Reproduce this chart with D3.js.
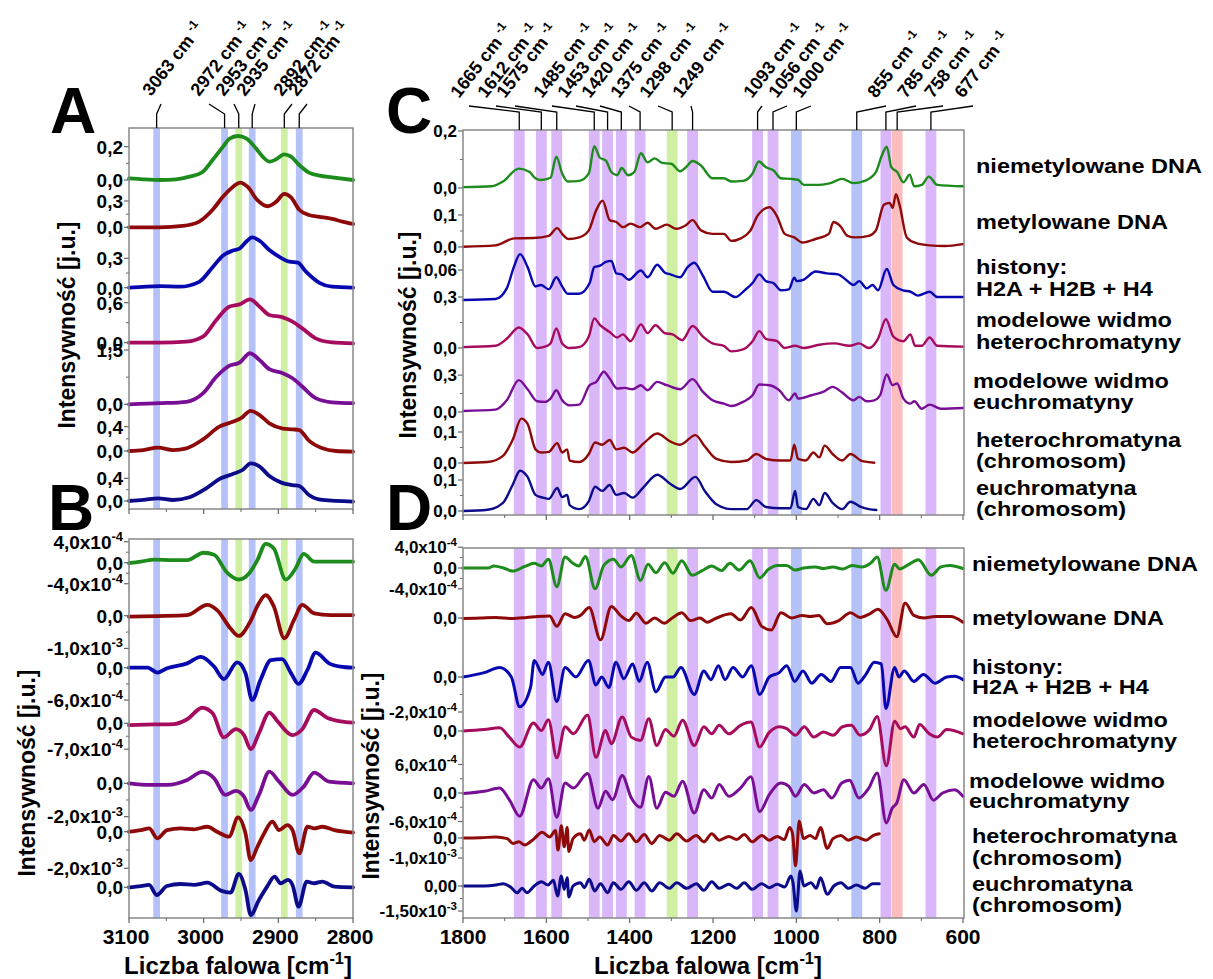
<!DOCTYPE html>
<html lang="pl">
<head>
<meta charset="UTF-8">
<title>Widma</title>
<script src="https://cdn.jsdelivr.net/npm/d3@7"></script>
<style>
  body { margin: 0; background: #fff; }
  text { font-family: "Liberation Sans", Arial, sans-serif; font-weight: bold; fill: #000; }
</style>
</head>
<body>
<svg id="fig" width="1213" height="979"></svg>
<script>
// ---------- data: [wavenumber, value] ----------
// panel A (3100-2800 cm-1), intensity
var aNiem = [[3100,0.01],[3081,0.004],[3059,0],[3037,0.004],[3019,0.02],[3001,0.05],[2988,0.12],[2974,0.2],[2966,0.246],[2954,0.264],[2943,0.25],[2930,0.19],[2921,0.14],[2912,0.11],[2903,0.124],[2892,0.154],[2883,0.14],[2872,0.09],[2859,0.044],[2845,0.026],[2828,0.016],[2800,0.0]];
var aMet = [[3100,0],[3059,0],[3028,0.015],[3006,0.065],[2988,0.2],[2974,0.35],[2961,0.46],[2951,0.51],[2941,0.46],[2928,0.31],[2914,0.24],[2903,0.29],[2892,0.38],[2883,0.34],[2872,0.2],[2859,0.14],[2845,0.12],[2828,0.095],[2814,0.065],[2800,0.038]];
var aHist = [[3100,0],[3059,0.017],[3032,0.01],[3006,0.06],[2988,0.21],[2974,0.33],[2961,0.38],[2952,0.40],[2943,0.47],[2935,0.515],[2925,0.48],[2912,0.385],[2899,0.317],[2885,0.266],[2874,0.256],[2863,0.164],[2845,0.05],[2828,0.01],[2800,0]];
var aModHet = [[3100,0],[3059,0],[3023,0.015],[3001,0.09],[2983,0.34],[2966,0.54],[2952,0.575],[2938,0.65],[2925,0.54],[2912,0.415],[2894,0.38],[2881,0.315],[2868,0.215],[2850,0.065],[2828,0.005],[2800,-0.01]];
var aModEu = [[3100,0],[3059,0.03],[3023,0.07],[3001,0.3],[2983,0.76],[2966,1.06],[2952,1.15],[2938,1.41],[2925,1.22],[2912,0.97],[2894,0.86],[2881,0.72],[2868,0.49],[2850,0.17],[2828,0.055],[2800,0.03]];
var aHetCh = [[3100,0],[3081,0.016],[3061,0.055],[3041,0.016],[3023,0.044],[3001,0.19],[2979,0.4],[2961,0.48],[2950,0.54],[2937,0.66],[2925,0.59],[2912,0.455],[2894,0.37],[2881,0.356],[2872,0.345],[2859,0.17],[2841,0.044],[2823,0],[2800,-0.01]];
var aEuCh = [[3100,0],[3081,0.018],[3061,0.047],[3041,0.018],[3019,0.065],[2997,0.22],[2977,0.4],[2961,0.476],[2948,0.547],[2937,0.665],[2925,0.606],[2912,0.44],[2896,0.324],[2881,0.28],[2872,0.265],[2859,0.106],[2841,0.018],[2800,-0.01]];

// panel B, second derivative, units of 1e-4
var bNiem = [[3100,-0.1],[3084,0.2],[3066,0.6],[3040,0.5],[3022,0.5],[3000,1.9],[2986,1.5],[2968,-2.0],[2953,-3.2],[2939,-2.0],[2928,0.5],[2917,3.6],[2906,2.7],[2890,-3.2],[2877,-1.1],[2866,1.7],[2852,0.2],[2825,0.2],[2800,0.2]];
var bMet = [[3100,-0.3],[3062,-0.1],[3022,0.2],[2995,3.3],[2982,1.7],[2964,-3.9],[2953,-6.2],[2939,-2.4],[2926,3.8],[2917,6.3],[2906,2.8],[2892,-6.9],[2879,-1.3],[2868,3.3],[2852,0.7],[2830,0.2],[2800,0.2]];
var bHist = [[3100,0],[3075,0],[3062,-0.9],[3049,-0.1],[3022,0.8],[3004,2.0],[2986,0.2],[2973,-2.1],[2955,1.0],[2944,-1.0],[2935,-6.0],[2924,-2.3],[2910,1.4],[2895,1.6],[2883,-1.0],[2873,-3.0],[2861,-0.4],[2850,2.8],[2832,0.8],[2817,0.2],[2800,0]];
var bModHet = [[3100,-0.5],[3066,-0.3],[3040,-0.2],[3022,1.1],[3002,4.2],[2988,2.7],[2973,-3.8],[2957,-1.6],[2946,-3.2],[2937,-7.0],[2926,-2.7],[2912,2.9],[2901,0.5],[2881,-3.2],[2868,-1.6],[2852,3.6],[2834,1.4],[2817,0.5],[2800,0.2]];
var bModEu = [[3100,0],[3071,-1],[3049,-1],[3022,2],[3002,6.8],[2986,3],[2971,-7],[2957,-4.6],[2946,-8],[2937,-16],[2926,-7],[2912,7],[2899,1],[2881,-7],[2866,-2],[2852,6.4],[2832,1],[2800,0]];
var bHetCh = [[3100,0],[3084,0.9],[3073,1.8],[3062,-3.6],[3049,0.9],[3031,1.8],[3013,1.3],[2995,2.7],[2982,0],[2966,-2.7],[2954,7.8],[2944,-0.9],[2937,-15.5],[2928,-8.2],[2919,-0.9],[2908,5.5],[2899,0.9],[2888,3.6],[2881,0.9],[2872,-11.8],[2861,2.7],[2852,1.8],[2841,2.7],[2825,0.9],[2812,0],[2800,-0.5]];
var bEuCh = [[3100,0],[3084,0.7],[3073,1.3],[3063,-4.2],[3049,0.7],[3031,1.8],[3013,1.3],[2995,2.5],[2977,-1.8],[2964,-2.9],[2953,7.3],[2944,-1.5],[2937,-15.1],[2926,-6.9],[2915,0.4],[2905,5.8],[2897,2.2],[2887,4],[2881,1.3],[2873,-10.5],[2862,3.1],[2852,2.2],[2841,3.1],[2825,0.4],[2800,0]];

// panel C (1800-600 cm-1), intensity
var cNiem = [[1800,0.003],[1731,0.006],[1704,0.023],[1666,0.068],[1640,0.056],[1626,0.034],[1613,0.028],[1590,0.036],[1576,0.11],[1562,0.051],[1549,0.023],[1521,0.025],[1498,0.051],[1485,0.147],[1472,0.107],[1457,0.096],[1444,0.056],[1430,0.045],[1419,0.07],[1404,0.045],[1389,0.056],[1373,0.122],[1357,0.09],[1340,0.104],[1322,0.088],[1300,0.085],[1279,0.059],[1265,0.073],[1249,0.095],[1229,0.079],[1201,0.034],[1174,0.034],[1156,0.023],[1128,0.025],[1105,0.051],[1090,0.093],[1073,0.073],[1055,0.062],[1037,0.034],[1014,0.032],[995,0.028],[982,0.011],[945,0.011],[918,0.017],[890,0.032],[863,0.017],[836,0.025],[809,0.056],[795,0.113],[783,0.145],[772,0.073],[758,0.056],[743,0.02],[728,0.047],[717,0.006],[699,0.011],[682,0.04],[662,0.011],[600,0.006]];
var cMet = [[1800,0.001],[1722,0.005],[1677,0.027],[1631,0.028],[1594,0.035],[1574,0.059],[1560,0.038],[1547,0.025],[1521,0.03],[1498,0.052],[1480,0.116],[1465,0.145],[1448,0.084],[1432,0.078],[1416,0.062],[1398,0.073],[1375,0.062],[1357,0.076],[1338,0.057],[1311,0.07],[1288,0.057],[1265,0.068],[1249,0.084],[1229,0.052],[1201,0.041],[1174,0.041],[1156,0.019],[1133,0.027],[1110,0.052],[1092,0.1],[1064,0.124],[1046,0.095],[1028,0.041],[1005,0.03],[986,0.014],[954,0.025],[922,0.041],[911,0.078],[895,0.066],[877,0.035],[859,0.03],[826,0.035],[809,0.052],[790,0.132],[776,0.138],[769,0.122],[761,0.165],[752,0.13],[735,0.03],[712,0.012],[680,0.005],[644,0.003],[600,0.009]];
var cHist = [[1800,-0.002],[1722,0],[1695,0.022],[1678,0.066],[1663,0.093],[1645,0.066],[1626,0.026],[1613,0.029],[1594,0.02],[1576,0.045],[1562,0.026],[1549,0.011],[1521,0.011],[1496,0.033],[1485,0.066],[1471,0.069],[1457,0.077],[1444,0.079],[1432,0.053],[1419,0.051],[1402,0.04],[1373,0.059],[1357,0.045],[1334,0.071],[1316,0.055],[1302,0.051],[1279,0.045],[1261,0.066],[1245,0.075],[1224,0.048],[1201,0.015],[1174,0.015],[1146,0.004],[1124,0.018],[1105,0.033],[1089,0.051],[1073,0.037],[1055,0.033],[1037,0.018],[1018,0.02],[1005,0.044],[999,0.037],[982,0.04],[954,0.057],[927,0.053],[900,0.051],[881,0.04],[863,0.029],[849,0.037],[831,0.022],[817,0.029],[804,0.018],[783,0.062],[767,0.029],[744,0.018],[726,0.015],[708,0.007],[680,0.015],[662,0.004],[639,0.004],[600,0.004]];
var cModHet = [[1800,0.005],[1722,0.013],[1695,0.054],[1666,0.121],[1645,0.08],[1622,0],[1603,0.008],[1590,0.027],[1576,0.115],[1562,0.027],[1544,0],[1521,0.005],[1498,0.067],[1485,0.174],[1471,0.134],[1448,0.094],[1430,0.062],[1416,0.08],[1398,0.04],[1373,0.139],[1357,0.088],[1338,0.134],[1316,0.088],[1297,0.08],[1274,0.046],[1249,0.129],[1224,0.067],[1201,0.027],[1174,0.013],[1156,-0.02],[1128,-0.008],[1105,0.04],[1089,0.099],[1073,0.054],[1046,0.04],[1028,0],[1003,0.013],[982,0],[945,0.019],[909,0.027],[872,0.013],[849,0.027],[826,0],[804,0.054],[785,0.169],[767,0.067],[743,0.04],[726,0.08],[715,0.013],[699,0.013],[680,0.062],[662,0.013],[600,0.008]];
var cModEu = [[1800,0.008],[1722,0.019],[1695,0.095],[1666,0.259],[1645,0.185],[1622,0.087],[1603,0.082],[1590,0.109],[1576,0.177],[1562,0.095],[1544,0.054],[1521,0.06],[1496,0.218],[1480,0.245],[1462,0.327],[1448,0.272],[1430,0.191],[1412,0.196],[1393,0.185],[1373,0.218],[1357,0.177],[1334,0.245],[1311,0.218],[1279,0.185],[1249,0.267],[1224,0.163],[1201,0.095],[1174,0.068],[1156,0.049],[1128,0.082],[1105,0.136],[1089,0.223],[1064,0.218],[1041,0.177],[1018,0.095],[1003,0.15],[996,0.109],[964,0.136],[936,0.163],[913,0.204],[890,0.158],[863,0.095],[849,0.123],[831,0.087],[813,0.095],[799,0.136],[783,0.305],[769,0.218],[758,0.232],[743,0.109],[726,0.068],[717,0.087],[699,0.027],[680,0.06],[653,0.027],[600,0.033]];
var cHetCh = [[1800,0],[1741,0.003],[1704,0.023],[1681,0.074],[1660,0.143],[1645,0.126],[1626,0.044],[1613,0.034],[1594,0.036],[1574,0.064],[1562,0.034],[1550,0.044],[1544,0.008],[1521,0.003],[1498,0.029],[1483,0.066],[1466,0.059],[1448,0.074],[1432,0.044],[1413,0.049],[1393,0.034],[1366,0.064],[1334,0.095],[1302,0.069],[1279,0.059],[1242,0.09],[1220,0.054],[1192,0.013],[1156,0.003],[1119,0.008],[1096,0.029],[1073,0.013],[1037,0.008],[1014,0.008],[1005,0.059],[996,0.013],[977,0.008],[959,0.034],[945,0.018],[932,0.056],[913,0.029],[890,0.008],[870,0.029],[845,0.008],[826,0.003],[813,0.001]];
var cEuCh = [[1800,0],[1741,0.004],[1704,0.026],[1681,0.084],[1663,0.13],[1645,0.11],[1626,0.052],[1608,0.043],[1594,0.039],[1574,0.074],[1562,0.045],[1550,0.052],[1544,0.019],[1521,0.006],[1498,0.032],[1483,0.078],[1466,0.065],[1448,0.084],[1432,0.052],[1413,0.058],[1393,0.043],[1366,0.078],[1334,0.117],[1302,0.087],[1279,0.071],[1242,0.11],[1220,0.065],[1192,0.022],[1156,0.006],[1119,0.006],[1096,0.035],[1073,0.013],[1037,0.009],[1014,0.009],[1003,0.065],[996,0.013],[977,0.006],[959,0.039],[945,0.019],[932,0.058],[913,0.026],[890,0.006],[870,0.03],[845,0.013],[826,0.006],[808,0.003]];

// panel D, second derivative, units of 1e-4
var dNiem = [[1800,0],[1740,0],[1726,0.4],[1703,0],[1680,-0.6],[1652,0.3],[1629,0.9],[1612,0.4],[1595,1.7],[1575,-3.6],[1555,2.1],[1536,0.9],[1522,0.4],[1506,2.2],[1483,-4],[1462,0.5],[1439,1.7],[1421,0.2],[1396,2.4],[1374,-2.4],[1356,0.7],[1337,-0.9],[1316,1],[1296,-1],[1275,1.4],[1250,-1.4],[1226,-0.5],[1203,0.4],[1180,-0.5],[1159,0.9],[1137,-0.4],[1111,1.4],[1088,-1.9],[1066,-0.2],[1046,0.5],[1023,0.5],[1004,-0.4],[982,0],[954,0.2],[935,-0.1],[912,0.2],[889,-0.2],[866,0.5],[843,0.2],[822,0.9],[806,2.1],[785,-4.3],[764,0.7],[752,-0.2],[730,0.7],[707,1.6],[676,-1.4],[653,0.2],[632,0.5],[600,-0.1]];
var dMet = [[1800,-0.1],[1758,0],[1721,0.1],[1684,-0.1],[1647,0.1],[1620,0.3],[1592,0.4],[1575,-1.6],[1555,0.8],[1532,0.1],[1518,0.5],[1497,2],[1470,-4.2],[1444,2.2],[1421,0.4],[1402,-0.5],[1384,0.9],[1361,-1],[1340,0],[1317,-1],[1296,0.1],[1275,1],[1254,-0.5],[1231,0],[1214,-0.8],[1194,-0.1],[1157,0.8],[1134,-0.4],[1108,2],[1083,-1.6],[1060,-2.3],[1037,1],[1011,0],[986,0.5],[967,0.3],[946,0.5],[926,-1.1],[898,-0.5],[870,1],[847,0.1],[824,0.8],[804,1.7],[782,-0.3],[759,-3.6],[739,2.9],[718,0.5],[694,0],[667,0.3],[630,0.3],[600,-0.8]];
var dHist = [[1800,0],[1749,0.25],[1712,0.55],[1684,0],[1664,-1.7],[1638,-0.6],[1629,0.95],[1609,0.15],[1595,0.85],[1575,-1.4],[1555,0.55],[1529,0],[1499,0.95],[1481,-0.45],[1467,0],[1450,-0.6],[1433,0.85],[1414,-0.1],[1393,0.75],[1377,-0.25],[1358,0.85],[1337,-0.85],[1314,0],[1296,0],[1277,0.55],[1245,-1],[1222,0.35],[1205,-0.15],[1187,0.65],[1171,-0.15],[1152,0.55],[1129,0],[1108,0.65],[1088,-1],[1065,0],[1041,0.25],[1023,0.65],[1004,-0.25],[984,0.35],[963,-0.35],[940,0.15],[917,-0.25],[894,0.55],[870,0.55],[852,-0.35],[833,0.15],[813,0.85],[796,0.75],[785,-1.8],[764,0.55],[754,0],[741,0.35],[718,-0.25],[695,0.15],[667,-0.35],[639,0],[620,0.05],[600,-0.15]];
var dModHet = [[1800,0],[1749,0.3],[1712,0.7],[1689,-1.3],[1664,-3.4],[1631,1.7],[1612,0.1],[1595,2.4],[1575,-5.7],[1555,0.9],[1535,-0.6],[1501,3.4],[1481,-5.6],[1458,0.1],[1444,-2.7],[1418,3],[1396,-1.3],[1374,-2],[1354,2.6],[1335,-3.1],[1314,0.3],[1294,-1.1],[1273,2.3],[1245,-3.1],[1222,0.9],[1203,-0.6],[1185,1.2],[1162,-0.6],[1134,1.2],[1109,1.9],[1088,-3.4],[1066,-0.4],[1041,0.9],[1023,0.5],[1002,-0.9],[981,0.9],[958,-1.3],[935,-0.2],[912,-0.9],[889,0.9],[868,1.2],[847,-0.9],[824,0.3],[806,3.1],[784,-7.4],[764,2.1],[750,0.5],[739,0.9],[718,-1.3],[704,1.4],[681,-0.6],[662,-1.3],[639,0.3],[600,-0.6]];
var dModEu = [[1800,-0.1],[1749,0.35],[1712,1.05],[1689,-1.4],[1664,-4.9],[1631,2.8],[1612,1.05],[1595,3],[1575,-5.1],[1555,2.1],[1535,1.05],[1501,4.1],[1476,-3.2],[1458,0.35],[1441,-1.4],[1418,3.7],[1396,-1.05],[1374,-3],[1354,3.5],[1335,-3.2],[1314,0.15],[1294,-0.7],[1273,2.5],[1245,-4.2],[1222,0.7],[1203,-1.05],[1185,1.8],[1162,-0.7],[1134,1.05],[1109,3.4],[1088,-3.9],[1065,-0.35],[1037,2.1],[1018,1.4],[1002,-0.7],[981,1.8],[958,0],[935,0.7],[915,-1.05],[891,2.1],[872,2.7],[850,-1.05],[826,1.05],[806,4.2],[784,-6.3],[770,-3.2],[759,-2.1],[742,2.8],[718,0],[694,1.8],[671,-1.5],[649,0],[620,0.7],[600,-0.7]];
var dHetCh = [[1800,0],[1758,0.15],[1721,0.5],[1694,-0.3],[1680,-2.7],[1666,-1.9],[1652,-3.5],[1629,-0.3],[1610,2.9],[1592,0.5],[1578,3.7],[1572,-6],[1564,6.1],[1557,-4.4],[1550,5.3],[1546,-6.8],[1536,-0.3],[1518,2.1],[1509,-1.1],[1497,4],[1485,-1.9],[1472,0.5],[1453,-3.5],[1439,1.3],[1421,-1.5],[1402,2.1],[1384,-1.9],[1365,1.8],[1347,-2.7],[1328,1.3],[1305,-1.1],[1287,2.1],[1263,-1.5],[1240,1.3],[1222,-1.9],[1203,2.1],[1185,-1.1],[1162,0.8],[1143,-0.8],[1125,1.8],[1106,-1.9],[1083,1.3],[1065,-1.1],[1046,0.8],[1029,-0.8],[1016,5.3],[1009,2.1],[1002,-14],[993,8.5],[983,-0.3],[967,1.3],[954,-0.3],[942,5.3],[926,-5.2],[912,-0.3],[893,1.3],[875,-1.1],[856,0.5],[833,-1.1],[815,1.3],[801,2.1]];
var dEuCh = [[1800,0],[1749,0],[1721,0.6],[1703,1.4],[1684,-1],[1670,-4],[1658,-1.4],[1647,-4],[1629,0],[1612,2.6],[1596,0.6],[1583,3.4],[1573,-6],[1564,6],[1557,-2],[1550,5],[1546,-6.6],[1536,0],[1518,2],[1509,-1],[1497,4],[1484,-3],[1470,1.4],[1453,-4],[1439,2],[1421,-2],[1402,2.6],[1384,-2.6],[1365,2],[1347,-3],[1328,2],[1305,-1.4],[1287,2],[1263,-1.4],[1240,1.4],[1222,-2.6],[1203,2.6],[1185,-1.4],[1162,1],[1143,-1.4],[1125,2],[1106,-2],[1083,1.4],[1065,-1],[1046,1],[1028,-0.6],[1013,6],[1008,2],[1000,-15],[991,9],[982,0],[965,2],[952,-1.4],[942,5],[926,-5],[910,0],[893,2],[875,-1.4],[856,0.6],[835,-1.4],[817,1.4],[801,1.4]];

// series names (right legend) and colours
var seriesNames = [["niemetylowane DNA"], ["metylowane DNA"], ["histony:", "H2A + H2B + H4"],
  ["modelowe widmo", "heterochromatyny"], ["modelowe widmo", "euchromatyny"],
  ["heterochromatyna", "(chromosom)"], ["euchromatyna", "(chromosom)"]];
var colors = ["#1d8c1d", "#8e0a0a", "#0808b0", "#a60c5e", "#780e94", "#8e0a0a", "#0c0c8a"];

// marked bands
var bandsAB = [3063, 2972, 2953, 2935, 2892, 2872];
var bandTypeAB = ["blue", "blue", "green", "blue", "green", "blue"];
var bandsCD = [1665, 1612, 1575, 1485, 1453, 1420, 1375, 1298, 1249, 1093, 1056, 1000, 855, 785, 758, 677];
var bandTypeCD = ["purple", "purple", "purple", "purple", "purple", "purple", "purple", "green", "purple",
  "purple", "purple", "blue", "blue", "purple", "pink", "purple"];

// y tick labels per spectrum: [value, label]  (^ marks superscript)
var ticksA = [[[0,"0,0"],[0.2,"0,2"]], [[0,"0,0"],[0.3,"0,3"]], [[0,"0,0"],[0.3,"0,3"]], [[0,"0,0"],[0.6,"0,6"]],
  [[0,"0,0"],[1.5,"1,5"]], [[0,"0,0"],[0.4,"0,4"]], [[0,"0,0"],[0.4,"0,4"]]];
var ticksB = [[[4,"4,0x10^-4"],[0,"0,0"],[-4,"-4,0x10^-4"]], [[0,"0,0"],[-10,"-1,0x10^-3"]], [[0,"0,0"],[-6,"-6,0x10^-4"]],
  [[0,"0,0"],[-7,"-7,0x10^-4"]], [[0,"0,0"],[-20,"-2,0x10^-3"]], [[0,"0,0"],[-20,"-2,0x10^-3"]], [[0,"0,0"]]];
var ticksC = [[[0,"0,0"],[0.2,"0,2"]], [[0,"0,0"],[0.1,"0,1"]], [[0.06,"0,06"]], [[0,"0,0"],[0.3,"0,3"]],
  [[0,"0,0"],[0.3,"0,3"]], [[0,"0,0"],[0.1,"0,1"]], [[0,"0,0"],[0.1,"0,1"]]];
var ticksD = [[[4,"4,0x10^-4"],[0,"0,0"],[-4,"-4,0x10^-4"]], [[0,"0,0"]], [[0,"0,0"],[-2,"-2,0x10^-4"]], [[0,"0,0"]],
  [[6,"6,0x10^-4"],[0,"0,0"],[-6,"-6,0x10^-4"]], [[0,"0,0"],[-10,"-1,0x10^-3"]], [[0,"0,00"],[-15,"-1,50x10^-3"]]];

// ---------- layout ----------
var svg = d3.select("#fig");
var xAB = d3.scaleLinear().domain([3100, 2800]).range([129, 353]);
var xCD = d3.scaleLinear().domain([1800, 600]).range([463, 963]);
var bandFill = {blue: "#b5c1f9", green: "#cff0a2", purple: "#dab7f9", pink: "#fbbdbd"};

var panels = [
  {box: [129, 128, 353, 509], x: xAB, series: [aNiem, aMet, aHist, aModHet, aModEu, aHetCh, aEuCh], ticks: ticksA,
   zero: [180, 227.3, 287.7, 342.7, 404.3, 451, 501], k: [166.7, 87.7, 97.8, 66.7, 36.2, 60.8, 56.7],
   lw: 3.8, fs: 19, bands: bandsAB, bandType: bandTypeAB, bandW: 9, xMajor: [3100, 3000, 2900, 2800], xMinor: [3050, 2950, 2850]},
  {box: [129, 539, 353, 918], x: xAB, series: [bNiem, bMet, bHist, bModHet, bModEu, bHetCh, bEuCh], ticks: ticksB,
   zero: [562.7, 615.7, 667.7, 723.3, 783.3, 831.7, 887.3], k: [5.25, 3.27, 5.39, 3.7, 1.667, 1.833, 1.833],
   lw: 3.8, fs: 19, bands: bandsAB, bandType: bandTypeAB, bandW: 9, xMajor: [3100, 3000, 2900, 2800], xMinor: [3050, 2950, 2850], xLabels: true},
  {box: [463, 130, 964, 515], x: xCD, series: [cNiem, cMet, cHist, cModHet, cModEu, cHetCh, cEuCh], ticks: ticksC,
   zero: [188, 247, 299, 348, 412, 463, 511], k: [285, 320, 483, 170, 123, 310, 310],
   lw: 2.4, fs: 17, bands: bandsCD, bandType: bandTypeCD, bandW: 26, xMajor: [1800, 1600, 1400, 1200, 1000, 800, 600], xMinor: [1700, 1500, 1300, 1100, 900, 700]},
  {box: [463, 548, 964, 918], x: xCD, series: [dNiem, dMet, dHist, dModHet, dModEu, dHetCh, dEuCh], ticks: ticksD,
   zero: [568, 618, 677, 731, 793, 838, 886], k: [5.2, 5.2, 17.5, 4.7, 4.75, 2.0, 1.67],
   lw: 3, fs: 17, bands: bandsCD, bandType: bandTypeCD, bandW: 26, xMajor: [1800, 1600, 1400, 1200, 1000, 800, 600], xMinor: [1700, 1500, 1300, 1100, 900, 700], xLabels: true}
];

// text with ^superscript^ parts
function rich(t, str, fs) {
  str.split("^").forEach(function(s, i) {
    if (!s) return;
    var sp = t.append("tspan").text(s);
    if (i % 2) sp.attr("font-size", fs * 0.68).attr("dy", -fs * 0.42);
    else if (i > 0) sp.attr("dy", fs * 0.42);
  });
}

panels.forEach(function(p) {
  var x0 = p.box[0], y0 = p.box[1], x1 = p.box[2], y1 = p.box[3];
  var g = svg.append("g");

  // bands
  g.selectAll("rect.band").data(p.bands).enter().append("rect")
    .attr("x", function(b) { return p.x(b + p.bandW / 2); })
    .attr("width", function(b) { return p.x(b - p.bandW / 2) - p.x(b + p.bandW / 2); })
    .attr("y", y0).attr("height", y1 - y0)
    .attr("fill", function(b, i) { return bandFill[p.bandType[i]]; });

  // spectra
  p.series.forEach(function(s, i) {
    var y = d3.scaleLinear().domain([0, 1]).range([p.zero[i], p.zero[i] - p.k[i]]);
    var line = d3.line().x(function(d) { return p.x(d[0]); }).y(function(d) { return y(d[1]); })
      .curve(d3.curveMonotoneX);
    g.append("path").datum(s).attr("d", line).attr("fill", "none")
      .attr("stroke", colors[i]).attr("stroke-width", p.lw)
      .attr("stroke-linejoin", "round").attr("stroke-linecap", "round");

    // y ticks for this spectrum
    var tv = p.ticks[i].map(function(t) { return t[0]; }).sort(d3.ascending);
    for (var j = 1; j < tv.length; j++) {
      var ym = y((tv[j - 1] + tv[j]) / 2);
      g.append("line").attr("x1", x0 - 3).attr("x2", x0).attr("y1", ym).attr("y2", ym)
        .attr("stroke", "#666").attr("stroke-width", 1);
    }
    p.ticks[i].forEach(function(t) {
      var yy = y(t[0]);
      g.append("line").attr("x1", x0 - 5).attr("x2", x0).attr("y1", yy).attr("y2", yy)
        .attr("stroke", "#666").attr("stroke-width", 1.2);
      var txt = g.append("text").attr("x", x0 - 6).attr("y", yy).attr("dy", "0.36em")
        .attr("text-anchor", "end").style("font-size", p.fs + "px");
      rich(txt, t[1], p.fs);
    });
  });

  // frame
  g.append("rect").attr("x", x0).attr("y", y0).attr("width", x1 - x0).attr("height", y1 - y0)
    .attr("fill", "none").attr("stroke", "#888").attr("stroke-width", 1.5);

  // x ticks
  p.xMajor.forEach(function(v) {
    g.append("line").attr("x1", p.x(v)).attr("x2", p.x(v)).attr("y1", y1).attr("y2", y1 + 5)
      .attr("stroke", "#666").attr("stroke-width", 1.2);
    if (p.xLabels) {
      g.append("text").attr("x", p.x(v) - (p.x === xAB ? 3 : 0)).attr("y", y1 + 26).attr("text-anchor", "middle")
        .style("font-size", "21px").text(v);
    }
  });
  p.xMinor.forEach(function(v) {
    g.append("line").attr("x1", p.x(v)).attr("x2", p.x(v)).attr("y1", y1).attr("y2", y1 + 3)
      .attr("stroke", "#666");
  });
});

// band annotations with leader lines
function annotate(bands, x, labelX, top, labelY, bend) {
  bands.forEach(function(b, i) {
    var fx = x(b);
    svg.append("path")
      .attr("d", "M" + (labelX[i] + 10) + "," + (labelY + 7) + "L" + fx + "," + bend + "L" + fx + "," + top)
      .attr("fill", "none").attr("stroke", "#000").attr("stroke-width", 1.3);
    var t = svg.append("text")
      .attr("transform", "translate(" + labelX[i] + "," + labelY + ") rotate(-52)")
      .style("font-size", "18px");
    rich(t, b + " cm ^-1", 18);
  });
}
annotate(bandsAB, xAB, [151, 199, 224, 245, 282, 297], 128, 97, 114);
annotate(bandsCD, xCD, [459, 486, 505, 542, 566, 590, 619, 648, 681, 752, 777, 801, 876, 906, 933, 963], 130, 99, 112);

// panel letters
[["A", 50, 133], ["B", 48, 530], ["C", 386, 133], ["D", 386, 530]].forEach(function(l) {
  svg.append("text").attr("x", l[1]).attr("y", l[2]).style("font-size", "64px").text(l[0]);
});

// axis titles
[[75, 325], [35, 773], [416, 335], [379, 776]].forEach(function(a) {
  svg.append("text").attr("transform", "translate(" + a[0] + "," + a[1] + ") rotate(-90)")
    .attr("text-anchor", "middle").style("font-size", "23px").text("Intensywność [j.u.]");
});
[238, 708].forEach(function(cx) {
  var t = svg.append("text").attr("x", cx).attr("y", 974).attr("text-anchor", "middle").style("font-size", "24px");
  rich(t, "Liczba falowa [cm^-1^]", 24);
});

// right-hand series names
var nameYC = [[165], [221], [266, 288], [319, 341], [380, 401], [439, 460], [487, 508]];
var nameYD = [[563], [617], [666, 686], [719, 740], [780, 800], [835, 857], [883, 904]];
function names(xs, ys) {
  seriesNames.forEach(function(lines, i) {
    lines.forEach(function(s, j) {
      svg.append("text")
        .attr("transform", "translate(" + (i === 4 ? xs - 3 : xs) + "," + ys[i][j] + ") scale(1.12,1)")
        .attr("dy", "0.36em").style("font-size", "21px").text(s);
    });
  });
}
names(976, nameYC);
names(972, nameYD);
</script>
</body>
</html>
